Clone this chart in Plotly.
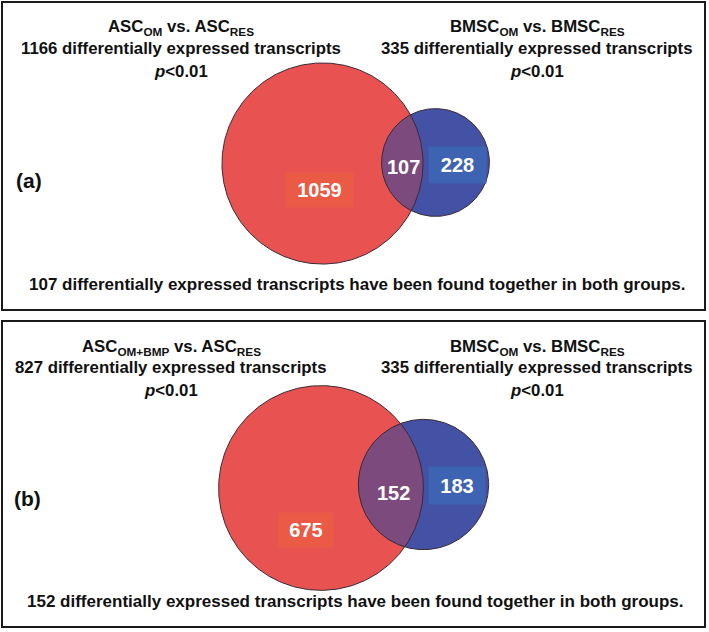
import numpy as np
import plotly.graph_objects as go

# ---------------- data ----------------
panel_tags = ["(a)", "(b)"]
left_titles = ["ASC<sub>OM</sub> vs. ASC<sub>RES</sub>",
               "ASC<sub>OM+BMP</sub> vs. ASC<sub>RES</sub>"]
right_titles = ["BMSC<sub>OM</sub> vs. BMSC<sub>RES</sub>",
                "BMSC<sub>OM</sub> vs. BMSC<sub>RES</sub>"]
left_totals = [1166, 827]
right_totals = [335, 335]
overlaps = [107, 152]
left_only = [1059, 675]
right_only = [228, 183]
p_text = "<i>p</i>&lt;0.01"

# ---------------- layout / style ----------------
W, H = 709, 632
HEAD_FONT = "Liberation Sans, Arial, sans-serif"
NUM_FONT = "Liberation Sans, Arial, sans-serif"
RED, BLUE, LENS = "#E85352", "#4352A4", "#7C4A7C"
RED_BOX, BLUE_BOX = "#EA5A45", "#3E63B2"
EDGE = "#3a2a35"

geom = [
    dict(box=(2, 2, 705, 310), red_c=(322.5, 163.5), blue_c=(435.5, 162.5), k=2.945,
         lx=181, rx=537, ty=(27, 48, 71), tag=(29, 180), bottom=(357, 284),
         lo=(319, 190, 67, 34), ov=(403, 167), ro=(457.5, 165, 57, 36)),
    dict(box=(2, 321, 705, 627), red_c=(321, 488), blue_c=(423.5, 484.5), k=3.56,
         lx=171, rx=537, ty=(347, 367, 390), tag=(27, 498), bottom=(355, 601),
         lo=(306, 530, 54, 34), ov=(393, 493), ro=(457, 485.5, 56, 37)),
]

fig = go.Figure()
annotations = []
shapes = []


def circle(c, r, n=400):
    t = np.linspace(0, 2 * np.pi, n)
    return c[0] + r * np.cos(t), c[1] + r * np.sin(t)


def lens(c1, r1, c2, r2, n=2000):
    phi = np.arctan2(c2[1] - c1[1], c2[0] - c1[0])
    t = np.linspace(-np.pi, np.pi, n)
    ax = c1[0] + r1 * np.cos(phi + t)
    ay = c1[1] + r1 * np.sin(phi + t)
    m1 = np.hypot(ax - c2[0], ay - c2[1]) <= r2
    bx = c2[0] + r2 * np.cos(phi + np.pi + t)
    by = c2[1] + r2 * np.sin(phi + np.pi + t)
    m2 = np.hypot(bx - c1[0], by - c1[1]) <= r1
    return np.r_[ax[m1], bx[m2]], np.r_[ay[m1], by[m2]]


for i, g in enumerate(geom):
    r_red = g["k"] * np.sqrt(left_totals[i])
    r_blue = g["k"] * np.sqrt(right_totals[i])
    x0, y0, x1, y1 = g["box"]
    shapes.append(dict(type="rect", xref="x", yref="y", x0=x0, y0=y0, x1=x1, y1=y1,
                       line=dict(color="#1a1a1a", width=2), fillcolor="rgba(0,0,0,0)"))

    xr, yr = circle(g["red_c"], r_red)
    xb, yb = circle(g["blue_c"], r_blue)
    xl, yl = lens(g["red_c"], r_red, g["blue_c"], r_blue)
    fig.add_trace(go.Scatter(x=xr, y=yr, mode="lines", fill="toself", fillcolor=RED,
                             line=dict(width=0), hoverinfo="skip", showlegend=False))
    fig.add_trace(go.Scatter(x=xb, y=yb, mode="lines", fill="toself", fillcolor=BLUE,
                             line=dict(width=0), hoverinfo="skip", showlegend=False))
    fig.add_trace(go.Scatter(x=xl, y=yl, mode="lines", fill="toself", fillcolor=LENS,
                             line=dict(width=0), hoverinfo="skip", showlegend=False))

    head = dict(family=HEAD_FONT, size=16.8, color="#111")
    lines_left = [left_titles[i], f"{left_totals[i]} differentially expressed transcripts", p_text]
    lines_right = [right_titles[i], f"{right_totals[i]} differentially expressed transcripts", p_text]
    for j in range(3):
        annotations.append(dict(x=g["lx"], y=g["ty"][j], text=f"<b>{lines_left[j]}</b>",
                                showarrow=False, font=head, xanchor="center", yanchor="middle"))
        annotations.append(dict(x=g["rx"], y=g["ty"][j], text=f"<b>{lines_right[j]}</b>",
                                showarrow=False, font=head, xanchor="center", yanchor="middle"))
    annotations.append(dict(x=g["tag"][0], y=g["tag"][1], text=f"<b>{panel_tags[i]}</b>",
                            showarrow=False, font=dict(family=NUM_FONT, size=21, color="#111")))
    annotations.append(dict(x=g["bottom"][0], y=g["bottom"][1],
                            text=f"<b>{overlaps[i]} differentially expressed transcripts have been found together in both groups.</b>",
                            showarrow=False, font=dict(family=HEAD_FONT, size=17, color="#111")))

    numf = dict(family=NUM_FONT, size=20, color="white")
    lx, ly, lw, lh = g["lo"]
    annotations.append(dict(x=lx, y=ly, text=f"<b>{left_only[i]}</b>", showarrow=False,
                            font=numf, bgcolor=RED_BOX, width=lw, height=lh, borderpad=0))
    rx, ry, rw, rh = g["ro"]
    annotations.append(dict(x=rx, y=ry, text=f"<b>{right_only[i]}</b>", showarrow=False,
                            font=numf, bgcolor=BLUE_BOX, width=rw, height=rh, borderpad=0))
    # circle outlines drawn above the fills
    for xx, yy in ((xr, yr), (xb, yb)):
        fig.add_trace(go.Scatter(x=xx, y=yy, mode="lines", line=dict(color=EDGE, width=1),
                                 hoverinfo="skip", showlegend=False))
    annotations.append(dict(x=g["ov"][0], y=g["ov"][1], text=f"<b>{overlaps[i]}</b>",
                            showarrow=False, font=numf))

fig.update_layout(
    width=W, height=H, margin=dict(l=0, r=0, t=0, b=0),
    paper_bgcolor="white", plot_bgcolor="white",
    xaxis=dict(range=[0, W], visible=False, fixedrange=True),
    yaxis=dict(range=[H, 0], visible=False, fixedrange=True),
    annotations=annotations, shapes=shapes, showlegend=False,
)

fig.write_html("out.html", config={"displayModeBar": False},
               post_script="document.body.style.margin='0';document.body.style.overflow='hidden';")
